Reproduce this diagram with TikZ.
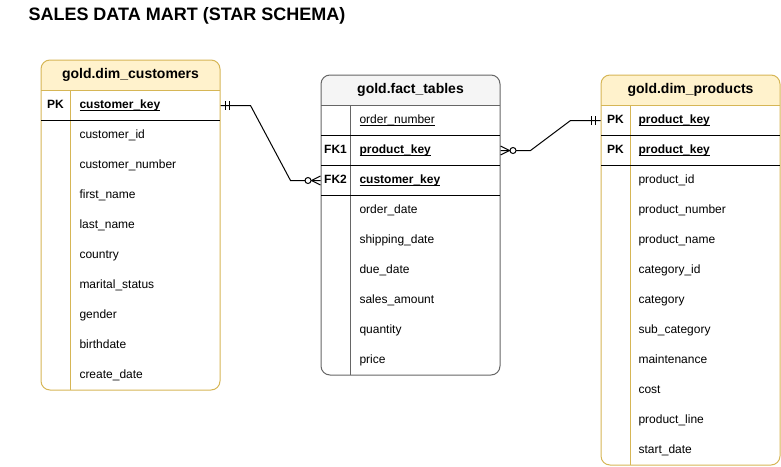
\documentclass[tikz,border=0pt]{standalone}
\usepackage{fontspec}
\setmainfont{Liberation Sans}
\definecolor{dimline}{HTML}{D6B656}
\definecolor{dimfill}{HTML}{FFF2CC}
\definecolor{factline}{HTML}{666666}
\definecolor{factfill}{HTML}{F5F5F5}
\newcommand\keyul[1]{\setbox0\hbox{#1}\rlap{\rule[-2.2pt]{\wd0}{0.8pt}}\box0}
\begin{document}
\begin{tikzpicture}[x=1pt,y=-1pt,line width=1pt,
tbl/.style={draw=#1line,rounded corners=9pt,minimum width=179pt,inner sep=0,path picture={\fill[#1fill,sharp corners](path picture bounding box.north west)rectangle([yshift=-30pt]path picture bounding box.north east);}},
head/.style={font=\fontsize{14}{16}\selectfont\bfseries,inner sep=0},
key/.style={font=\fontsize{12}{14}\selectfont\bfseries,inner sep=0,text height=9pt,text depth=3pt},
field/.style={font=\fontsize{12}{14}\selectfont,anchor=west,inner sep=0,text height=9pt,text depth=3pt}]
\useasboundingbox(0,0)rectangle(781,466);
\node[font=\fontsize{18}{21}\selectfont\bfseries,inner sep=0,anchor=west](ttl)at(28,16){SALES DATA MART (STAR SCHEMA)};
\node[tbl=dim,minimum height=330pt](cust)at(130.5,225){};
\node[tbl=fact,minimum height=300pt](fact)at(410.5,225){};
\node[tbl=dim,minimum height=390pt](prod)at(690.5,270){};
\node[head](ct)at(130.5,75){gold.dim\_customers};
\node[head](ft)at(410.5,90){gold.fact\_tables};
\node[head](pt)at(690.5,90){gold.dim\_products};
\draw[dimline](41,90)--(220,90)(70,90)--(70,390);
\draw[factline](321,105)--(500,105)(350,105)--(350,375);
\draw[dimline](601,105)--(780,105)(630,105)--(630,465);
\draw(41,120)--(220,120)(321,135)--(500,135)(321,165)--(500,165)(321,195)--(500,195)(601,135)--(780,135)(601,165)--(780,165);
\node[key](ckl)at(55.5,105.5){PK};\node[field](ck)at(79,105.5){\keyul{\textbf{customer\_key}}};
\foreach \t [count=\i] in {customer\_id,customer\_number,first\_name,last\_name,country,marital\_status,gender,birthdate,create\_date}\node[field](c\i)at(79,105.5+30*\i){\t};
\node[field](fo)at(359,120.5){\keyul{order\_number}};
\node[key](fpl)at(335.5,150.5){FK1};\node[field](fp)at(359,150.5){\keyul{\textbf{product\_key}}};
\node[key](fcl)at(335.5,180.5){FK2};\node[field](fc)at(359,180.5){\keyul{\textbf{customer\_key}}};
\foreach \t [count=\i] in {order\_date,shipping\_date,due\_date,sales\_amount,quantity,price}\node[field](f\i)at(359,180.5+30*\i){\t};
\node[key](pkl)at(615.5,120.5){PK};\node[field](pk)at(638,120.5){\keyul{\textbf{product\_key}}};
\node[key](pkml)at(615.5,150.5){PK};\node[field](pkm)at(638,150.5){\keyul{\textbf{product\_key}}};
\foreach \t [count=\i] in {product\_id,product\_number,product\_name,category\_id,category,sub\_category,maintenance,cost,product\_line,start\_date}\node[field](p\i)at(638,150.5+30*\i){\t};
\draw(cust.east|-ck)--++(30,0)--++(40,75)--(fact.west|-fc);
\draw(fact.east|-fp)--++(30,0)--++(40,-30)--(prod.west|-pk);
\draw(cust.east|-ck)++(5,-4.5)--++(0,9)++(4,0)--++(0,-9);
\draw(prod.west|-pk)++(-5,-4.5)--++(0,9)++(-4,0)--++(0,-9);
\draw(fact.west|-fc)++(0,-4.5)--++(-9,4.5)--++(9,4.5);
\draw[fill=white](fact.west|-fc)++(-12.5,0)circle(3);
\draw(fact.east|-fp)++(0,-4.5)--++(9,4.5)--++(-9,4.5);
\draw[fill=white](fact.east|-fp)++(12.5,0)circle(3);
\end{tikzpicture}
\end{document}
